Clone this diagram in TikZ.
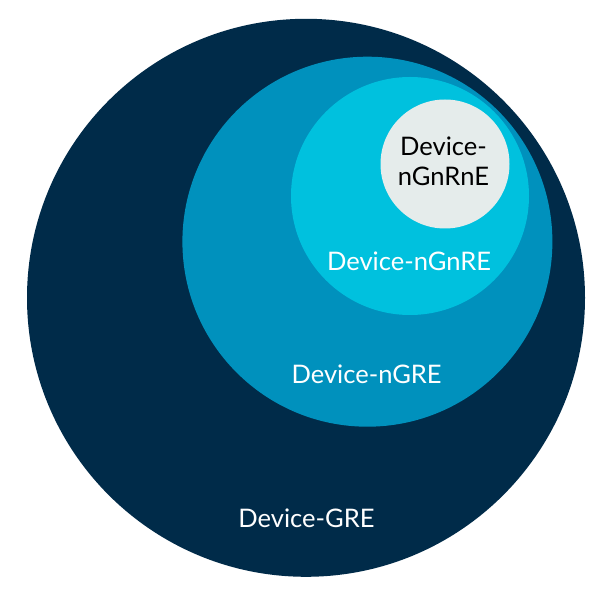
\documentclass[tikz,border=0pt]{standalone}
\usepackage{fontspec}
\setmainfont{Lato}
\definecolor{armnavy}{HTML}{002B49}
\definecolor{armblue}{HTML}{0091BD}
\definecolor{armsky}{HTML}{00C1DE}
\definecolor{armgrey}{HTML}{E5ECEB}
\tikzset{
  lbl/.style={font=\fontsize{21.8}{25.5}\selectfont, text=white, align=center, inner sep=0pt}
}
\begin{document}
\begin{tikzpicture}[x=0.03cm, y=-0.03cm]
 \fill[white](0,0)rectangle(610,598);
 \fill[armnavy](306,297.8)circle[radius=279];
 \fill[armblue](367.4,241.7)circle[radius=185];
 \fill[armsky](410,196)circle[radius=119];
 \fill[armgrey](445,164)circle[radius=64.5];
 \node[lbl, text=black] (nGnRnE) at (443.5,161.5) {Device-\\nGnRnE};
 \node[lbl] (nGnRE) at (409,261.5) {Device-nGnRE};
 \node[lbl] (nGRE) at (366.6,373.8) {Device-nGRE};
 \node[lbl] (GRE) at (306.4,518.5) {Device-GRE};
\end{tikzpicture}
\end{document}
